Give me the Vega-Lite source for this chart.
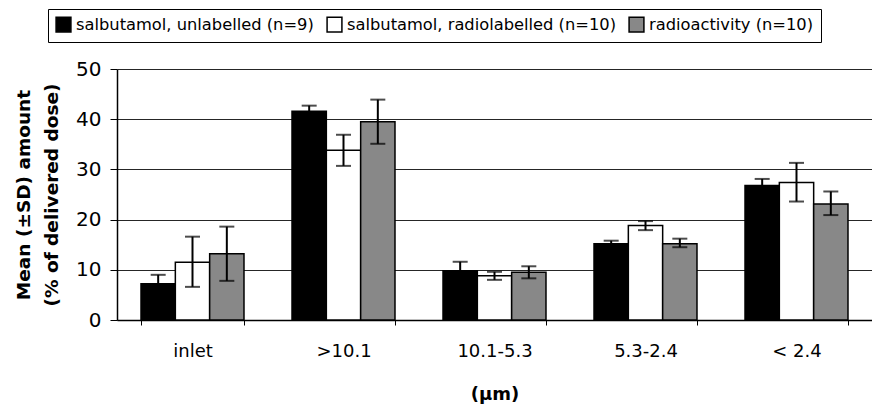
{
  "$schema": "https://vega.github.io/schema/vega-lite/v6.json",
  "autosize": "none",
  "width": 755,
  "height": 251,
  "padding": {"left": 117, "top": 69, "right": 0, "bottom": 84},
  "background": "white",
  "config": {
    "font": "DejaVu Sans",
    "view": {"stroke": null},
    "axis": {"domainColor": "black", "tickColor": "black", "labelColor": "black", "titleColor": "black", "labelFont": "DejaVu Sans", "titleFont": "DejaVu Sans"}
  },
  "data": {
    "values": [
      {"size": "inlet", "series": "salbutamol, unlabelled (n=9)", "mean": 7.2, "lo": 5.4, "hi": 9.0},
      {"size": "inlet", "series": "salbutamol, radiolabelled (n=10)", "mean": 11.5, "lo": 6.6, "hi": 16.6},
      {"size": "inlet", "series": "radioactivity (n=10)", "mean": 13.2, "lo": 7.8, "hi": 18.6},
      {"size": ">10.1", "series": "salbutamol, unlabelled (n=9)", "mean": 41.6, "lo": 40.5, "hi": 42.7},
      {"size": ">10.1", "series": "salbutamol, radiolabelled (n=10)", "mean": 33.8, "lo": 30.7, "hi": 36.9},
      {"size": ">10.1", "series": "radioactivity (n=10)", "mean": 39.5, "lo": 35.1, "hi": 43.9},
      {"size": "10.1-5.3", "series": "salbutamol, unlabelled (n=9)", "mean": 9.8, "lo": 8.0, "hi": 11.6},
      {"size": "10.1-5.3", "series": "salbutamol, radiolabelled (n=10)", "mean": 8.8, "lo": 8.0, "hi": 9.6},
      {"size": "10.1-5.3", "series": "radioactivity (n=10)", "mean": 9.5, "lo": 8.3, "hi": 10.7},
      {"size": "5.3-2.4", "series": "salbutamol, unlabelled (n=9)", "mean": 15.2, "lo": 14.6, "hi": 15.8},
      {"size": "5.3-2.4", "series": "salbutamol, radiolabelled (n=10)", "mean": 18.8, "lo": 17.9, "hi": 19.7},
      {"size": "5.3-2.4", "series": "radioactivity (n=10)", "mean": 15.2, "lo": 14.5, "hi": 16.2},
      {"size": "< 2.4", "series": "salbutamol, unlabelled (n=9)", "mean": 26.8, "lo": 25.5, "hi": 28.1},
      {"size": "< 2.4", "series": "salbutamol, radiolabelled (n=10)", "mean": 27.4, "lo": 23.6, "hi": 31.3},
      {"size": "< 2.4", "series": "radioactivity (n=10)", "mean": 23.1, "lo": 20.9, "hi": 25.6}
    ]
  },
  "encoding": {
    "x": {
      "field": "size", "type": "nominal",
      "sort": ["inlet", ">10.1", "10.1-5.3", "5.3-2.4", "< 2.4"],
      "scale": {"paddingInner": 0.318, "paddingOuter": 0.159},
      "axis": {"title": "(μm)", "labelAngle": 0, "labelFontSize": 18, "labelPadding": 17, "tickSize": 5, "tickBand": "extent", "titleFontSize": 18, "titleFontWeight": "bold", "titlePadding": 25, "domainWidth": 1.5}
    },
    "xOffset": {"field": "series", "type": "nominal", "sort": ["salbutamol, unlabelled (n=9)", "salbutamol, radiolabelled (n=10)", "radioactivity (n=10)"], "scale": {"paddingInner": 0, "paddingOuter": 0}}
  },
  "layer": [
    {
      "mark": {"type": "bar", "stroke": "black", "strokeWidth": 1.5},
      "encoding": {
        "y": {
          "field": "mean", "type": "quantitative",
          "scale": {"domain": [0, 50], "nice": false},
          "axis": {"values": [0, 10, 20, 30, 40, 50], "grid": true, "gridColor": "black", "gridWidth": 1, "gridOpacity": 0.85, "labelFontSize": 20, "labelPadding": 9, "tickSize": 7, "domainWidth": 1.5, "title": ["Mean (±SD) amount", "(% of delivered dose)"], "titleFontSize": 18.5, "titleFontWeight": "bold", "titleLineHeight": 28, "titlePadding": 14}
        },
        "fill": {
          "field": "series", "type": "nominal",
          "sort": ["salbutamol, unlabelled (n=9)", "salbutamol, radiolabelled (n=10)", "radioactivity (n=10)"],
          "scale": {"range": ["#000000", "#ffffff", "#888888"]},
          "legend": {
            "title": null, "orient": "none", "direction": "horizontal",
            "legendX": -69, "legendY": -60,
            "symbolType": "square", "symbolSize": 220, "symbolStrokeColor": "black", "symbolStrokeWidth": 1.5, "symbolOpacity": 1,
            "labelFontSize": 16.3, "labelColor": "black", "labelOffset": 4, "columnPadding": 10,
            "padding": 7, "strokeColor": "black", "fillColor": "white", "labelLimit": 400
          }
        }
      }
    },
    {
      "mark": {"type": "rule", "color": "black", "strokeWidth": 2},
      "encoding": {"y": {"field": "lo", "type": "quantitative"}, "y2": {"field": "hi"}}
    },
    {
      "mark": {"type": "tick", "color": "black", "size": 15, "thickness": 2, "orient": "horizontal"},
      "encoding": {"y": {"field": "lo", "type": "quantitative"}}
    },
    {
      "mark": {"type": "tick", "color": "black", "size": 15, "thickness": 2, "orient": "horizontal"},
      "encoding": {"y": {"field": "hi", "type": "quantitative"}}
    }
  ]
}
